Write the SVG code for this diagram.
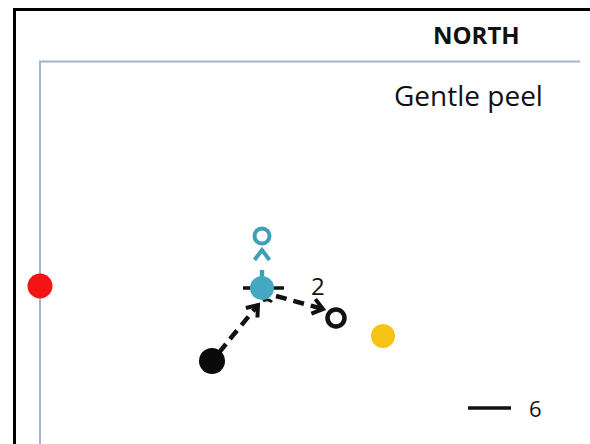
<svg xmlns="http://www.w3.org/2000/svg" width="590" height="444" viewBox="0 0 590 444">
<style>
.lbl{font-family:"Open Sans","Liberation Sans",sans-serif;fill:#111}
.dash{fill:none;stroke:#111;stroke-width:4.5;stroke-dasharray:11 7}
</style>
<defs>
<marker id="chevK" markerUnits="userSpaceOnUse" markerWidth="22" markerHeight="22" refX="13" refY="9" orient="auto" viewBox="0 0 22 18">
<polyline points="3,1.5 13,9 3,16.5" fill="none" stroke="#111" stroke-width="4"/>
</marker>
<marker id="chevC" markerUnits="userSpaceOnUse" markerWidth="22" markerHeight="22" refX="13" refY="9" orient="auto" viewBox="0 0 22 18">
<polyline points="3,1.5 13,9 3,16.5" fill="none" stroke="#3f9fb6" stroke-width="4"/>
</marker>
</defs>
<rect width="590" height="444" fill="#fff"/>
<g id="frame">
<polyline points="14.5,444 14.5,9.5 590,9.5" fill="none" stroke="#000" stroke-width="3"/>
<polyline points="40,444 40,61.5 580,61.5" fill="none" stroke="#a3b6c8" stroke-width="2"/>
</g>
<g id="titles">
<text class="lbl" x="433" y="44" font-size="24" font-weight="bold">NORTH</text>
<text class="lbl" x="394" y="106" font-size="28">Gentle peel</text>
</g>
<g id="connectors">
<line x1="213" y1="360" x2="226" y2="344" stroke="#111" stroke-width="4.5"/>
<line class="dash" x1="230" y1="339" x2="258" y2="305" marker-end="url(#chevK)"/>
<line class="dash" x1="276" y1="296" x2="323" y2="309" stroke-dasharray="12 6" marker-end="url(#chevK)"/>
<line x1="262" y1="281" x2="262" y2="270" stroke="#3f9fb6" stroke-width="4.5"/>
<line x1="262" y1="264" x2="262" y2="250" stroke="#3f9fb6" stroke-width="0" marker-end="url(#chevC)"/>
<line x1="243" y1="288" x2="284" y2="288" stroke="#111" stroke-width="3.5"/>
<path d="M263,301 Q268,298 272,302" fill="none" stroke="#111" stroke-width="3"/>
</g>
<g id="red-dot"><circle cx="40" cy="286" r="12.5" fill="#f51414"/></g>
<g id="yellow-dot"><circle cx="383" cy="336" r="12" fill="#f6c415"/></g>
<g id="black-dot"><circle cx="212" cy="361" r="13" fill="#0a0a0a"/></g>
<g id="cyan-dot"><circle cx="262" cy="288" r="12" fill="#45a8c2"/></g>
<g id="cyan-ring"><circle cx="262" cy="236" r="7.5" fill="none" stroke="#3f9fb6" stroke-width="4"/></g>
<g id="black-ring"><circle cx="336" cy="318" r="8.5" fill="none" stroke="#111" stroke-width="4.5"/></g>
<g id="label-2"><text class="lbl" x="311" y="295" font-size="24">2</text></g>
<g id="scale">
<line x1="468" y1="408" x2="511" y2="408" stroke="#111" stroke-width="3.5"/>
<text class="lbl" x="529" y="417" font-size="22">6</text>
</g>
</svg>
